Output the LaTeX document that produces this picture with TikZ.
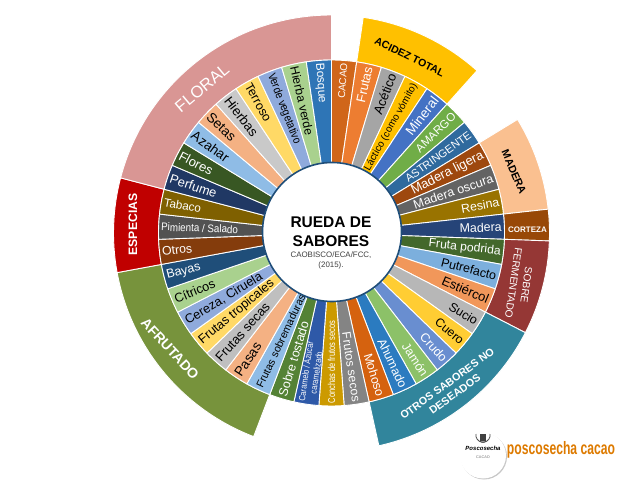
\documentclass[tikz,border=0pt]{standalone}
\usepackage{fontspec}
\setmainfont{Liberation Sans}
\definecolor{borde}{HTML}{1F4E79}
\definecolor{logotexto}{HTML}{DD7A00}
\newcommand{\sabor}[5]{
\pgfmathsetmacro{\angA}{90-8.372*(#1-1)}
\pgfmathsetmacro{\angB}{90-8.372*#1}
\pgfmathsetmacro{\angM}{90-8.372*(#1-0.5)}
\definecolor{colsabor}{HTML}{#2}
\filldraw[cuna,fill=colsabor] (0,0) -- (\angA:173pt) arc[start angle=\angA,end angle=\angB,radius=173pt] -- cycle;
\ifnum#1<22
\node[etiqueta,text=#5,font=\fontsize{#4}{#4}\selectfont,anchor=east,rotate=\angM] (s#1) at (\angM:170.5pt) {#3};
\else
\node[etiqueta,text=#5,font=\fontsize{#4}{#4}\selectfont,anchor=west,rotate=\angM+180] (s#1) at (\angM:170.5pt) {#3};
\fi
}
\newcommand{\anillo}[3]{
\pgfmathsetmacro{\angA}{90-8.372*#1}
\pgfmathsetmacro{\angB}{90-8.372*#2}
\definecolor{colanillo}{HTML}{#3}
\filldraw[cuna,fill=colanillo] (\angA:173pt) -- (\angA:218pt) arc[start angle=\angA,end angle=\angB,radius=218pt] -- (\angB:173pt) arc[start angle=\angB,end angle=\angA,radius=173pt] -- cycle;
}
\begin{document}
\begin{tikzpicture}[x=1pt,y=1pt,
cuna/.style ={draw=white,line width=0.9pt,line join=round},
etiqueta/.style ={inner sep=0pt,align=center},
grupo/.style ={inner sep=0pt,align=center}]
\useasboundingbox (0,0) rectangle (640,480);
\begin{scope}[shift={(331.5,247)}]
\anillo{1}{5}{FFC000}
\anillo{7}{10}{FAC090}
\anillo{10}{11}{984807}
\anillo{11}{14}{953735}
\anillo{14}{20}{31859C}
\anillo{24}{31}{77933C}
\anillo{31}{34}{C00000}
\anillo{34}{43}{D99694}
\sabor{1}{D0661A}{CACAO}{10}{white}
\sabor{2}{ED7D31}{Frutas}{13}{white}
\sabor{3}{A5A5A5}{Acético}{13}{black}
\sabor{4}{FFC000}{Láctico (como vómito)}{10}{black}
\sabor{5}{4472C4}{Mineral}{13.6}{white}
\sabor{6}{70AD47}{AMARGO}{11.5}{white}
\sabor{7}{2F6A9E}{ASTRINGENTE}{11}{white}
\sabor{8}{9E480E}{Madera ligera}{13}{white}
\sabor{9}{636363}{Madera oscura}{12.5}{white}
\sabor{10}{997300}{Resina}{12.3}{white}
\sabor{11}{264478}{Madera}{12.4}{white}
\sabor{12}{43682B}{Fruta podrida}{12.2}{white}
\sabor{13}{7CAFDD}{Putrefacto}{12.4}{black}
\sabor{14}{F1975A}{Estiércol}{12.9}{black}
\sabor{15}{B7B7B7}{Sucio}{12.5}{black}
\sabor{16}{FFCD33}{Cuero}{12.2}{black}
\sabor{17}{698ED0}{Crudo}{12.5}{white}
\sabor{18}{8CC168}{Jamón}{12.3}{white}
\sabor{19}{2B7BC0}{Ahumado}{12.4}{white}
\sabor{20}{D5620F}{Mohoso}{12.4}{white}
\sabor{21}{848484}{Frutos secos}{12.2}{white}
\sabor{22}{CC9A00}{\scalebox{0.75}[1]{Conchas de frutos secos}}{10}{white}
\sabor{23}{2E59A8}{\scalebox{0.8}[1]{Caramelo / Azúcar}\\[1.5pt]\scalebox{0.8}[1]{caramelizado}}{9}{white}
\sabor{24}{548235}{Sobre tostado}{12.5}{white}
\sabor{25}{8FBCE6}{Frutas sobremaduras}{10.7}{black}
\sabor{26}{F4B183}{Pasas}{13.6}{black}
\sabor{27}{BFBFBF}{Frutas secas}{13}{black}
\sabor{28}{FFD966}{Frutas tropicales}{12.7}{black}
\sabor{29}{8FAADC}{Cereza, Ciruela}{12.7}{black}
\sabor{30}{A9D18E}{Cítricos}{12.7}{black}
\sabor{31}{1F4E79}{Bayas}{12.5}{white}
\sabor{32}{843C0C}{Otros}{12.3}{white}
\sabor{33}{525252}{\scalebox{0.89}[1]{Pimienta / Salado}}{11}{white}
\sabor{34}{7F6000}{Tabaco}{11.7}{white}
\sabor{35}{203864}{Perfume}{12.9}{white}
\sabor{36}{385723}{Flores}{13}{white}
\sabor{37}{8FBCE6}{Azahar}{13.5}{black}
\sabor{38}{F4B183}{Setas}{13.6}{black}
\sabor{39}{C9C9C9}{Hierbas}{13.4}{black}
\sabor{40}{FFD966}{Terroso}{12.4}{black}
\sabor{41}{8FAADC}{\scalebox{0.87}[1]{Verde vegetativo}}{11.5}{black}
\sabor{42}{A9D18E}{Hierba verde}{12.2}{black}
\sabor{43}{2E75B6}{Bosque}{11.8}{white}
\filldraw[fill=white,draw=borde,line width=1.6pt] (0.5,1) circle (69.5pt);
\end{scope}
\node[grupo,text=white,font=\fontsize{16.6}{18}\selectfont] (floral) [rotate=40] at (202,392) {FLORAL};
\node[grupo,font=\fontsize{10.5}{12}\bfseries\selectfont] (acidez) [rotate=-26] at (409.5,423) {ACIDEZ TOTAL};
\node[grupo,font=\fontsize{10.7}{12}\bfseries\selectfont] (madera) [rotate=-67] at (514,308) {MADERA};
\node[grupo,text=white,font=\fontsize{8}{9}\bfseries\selectfont] (corteza) at (527.5,250) {CORTEZA};
\node[grupo,text=white,font=\fontsize{10.3}{13}\selectfont] (fermentado) [rotate=-98] at (520,196) {SOBRE\\FERMENTADO};
\node[grupo,text=white,font=\fontsize{10.7}{13}\bfseries\selectfont] (otros) [rotate=36] at (451,91) {OTROS SABORES NO\\DESEADOS};
\node[grupo,text=white,font=\fontsize{14}{16}\bfseries\selectfont] (afrutado) [rotate=-47] at (170,131) {AFRUTADO};
\node[grupo,text=white,font=\fontsize{12.2}{14}\bfseries\selectfont] (especias) [rotate=90] at (133,255.5) {ESPECIAS};
\node[grupo,font=\fontsize{15.5}{19}\bfseries\selectfont] (titulo) at (331,248.5) {RUEDA DE\\SABORES};
\node[grupo,text=black!75,font=\fontsize{7.9}{10}\selectfont] (fuente) at (331,220) {CAOBISCO/ECA/FCC,\\(2015).};
\fill[black!22] (484,23.5) circle (23pt);
\fill[white] (483,24.5) circle (23pt);
\draw[black!70,line width=0.8pt] (476,46) arc[start angle=170,end angle=300,radius=7pt];
\draw[black!70,line width=0.8pt] (490,46) arc[start angle=10,end angle=-120,radius=7pt];
\fill[black!75] (480,39) rectangle (486,46);
\node[grupo,font=\fontsize{6}{6}\bfseries\itshape\selectfont] (marca) at (483,31.5) {Poscosecha};
\node[grupo,text=black!55,font=\fontsize{3.8}{4}\selectfont] (cacao) at (483,23) {CACAO};
\node[grupo,text=logotexto,font=\fontsize{18}{18}\bfseries\selectfont,xscale=0.675,transform shape] (logo) at (561,30) {poscosecha cacao};
\end{tikzpicture}
\end{document}
